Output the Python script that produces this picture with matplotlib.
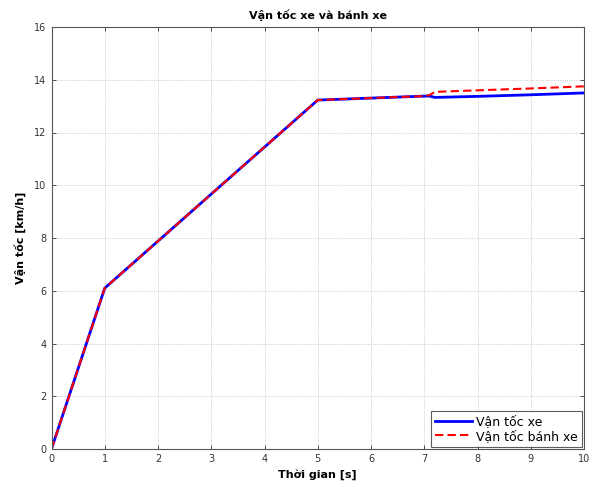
import matplotlib
matplotlib.use("Agg")
import matplotlib.pyplot as plt

plt.rcParams['font.family'] = ['DejaVu Sans']

# Data
t_vehicle = [0, 1, 5, 7.0, 7.1, 7.2, 8, 9, 10]
v_vehicle = [0, 6.1, 13.23, 13.38, 13.38, 13.33, 13.37, 13.43, 13.5]
t_wheel = [0, 1, 5, 7.0, 7.1, 7.2, 8, 9, 10]
v_wheel = [0, 6.1, 13.23, 13.38, 13.42, 13.54, 13.6, 13.67, 13.75]

x_ticks = list(range(0, 11))
y_ticks = list(range(0, 17, 2))

title = "Vận tốc xe và bánh xe"
xlabel = "Thời gian [s]"
ylabel = "Vận tốc [km/h]"
legend_labels = ["Vận tốc xe", "Vận tốc bánh xe"]

fig = plt.figure(figsize=(5.93, 4.87), dpi=100)
ax = fig.add_axes([51.5/593, 1 - 449/487, (584-51.5)/593, (449-27)/487])

ax.plot(t_vehicle, v_vehicle, color='#0000ff', lw=2.0, label=legend_labels[0])
ax.plot(t_wheel, v_wheel, color='#ff0000', lw=1.5, ls=(0, (4, 2)), label=legend_labels[1])

ax.set_xlim(0, 10)
ax.set_ylim(0, 16)
ax.set_xticks(x_ticks)
ax.set_yticks(y_ticks)
ax.tick_params(direction='in', length=3, labelsize=7, colors='#333333', width=0.6,
               top=True, right=True)
ax.grid(True, ls=':', color='#bbbbbb', lw=0.6)
for s in ax.spines.values():
    s.set_color('#555555')
    s.set_linewidth(0.8)

ax.set_title(title, fontsize=8, fontweight='bold', pad=6)
ax.set_xlabel(xlabel, fontsize=8, fontweight='bold', labelpad=4)
ax.set_ylabel(ylabel, fontsize=8, fontweight='bold', labelpad=6)

leg = ax.legend(loc='lower right', fontsize=9, frameon=True, fancybox=False,
                edgecolor='#333333', borderaxespad=0.2, handlelength=3.0,
                handletextpad=0.3, labelspacing=0.15, borderpad=0.3)
leg.get_frame().set_linewidth(0.8)

fig.savefig("out.png", dpi=100)
